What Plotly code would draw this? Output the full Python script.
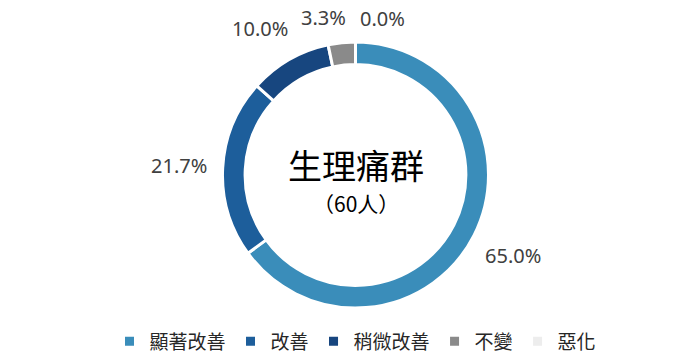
import math
import plotly.graph_objects as go

categories = ["顯著改善", "改善", "稍微改善", "不變", "惡化"]
values = [65.0, 21.7, 10.0, 3.3, 0.0]
colors = ["#3A8DBA", "#1D5E9B", "#17467F", "#8A8A8A", "#EDEDED"]
center_title = "生理痛群"
center_sub = "（60人）"

W, H = 691, 356
MT, MB = 42, 48
PH = H - MT - MB
CX, CY = 355.5, MT + PH / 2
R = PH / 2
LABEL_SIZE = 20

fig = go.Figure(go.Pie(
    labels=categories, values=values, sort=False,
    direction="clockwise", rotation=0, hole=0.83,
    marker=dict(colors=colors, line=dict(color="white", width=3)),
    textinfo="none", hoverinfo="label+percent",
    domain=dict(x=[(CX - R) / W, (CX + R) / W], y=[0, 1]),
))


def text_width(t, size):
    wmap = {".": 0.27, "%": 0.86}
    return sum(wmap.get(ch, 0.572) for ch in t) * size


# outside labels: place box just outside the ring at each slice's mid-angle
labels = []
total = sum(values)
cum = 0.0
LR = 148
TH = 16
for v in values:
    mid = (cum + v / 2) / total * 2 * math.pi
    cum += v
    s, c = math.sin(mid), math.cos(mid)
    txt = f"{v:.1f}%"
    w = text_width(txt, LABEL_SIZE)
    d = LR + abs(s) * w / 2 + abs(c) * TH / 2
    labels.append(dict(txt=txt, w=w, x=CX + d * s, y=CY - d * c))

# simple de-overlap: push overlapping neighbours apart horizontally
GAP = 13
for _ in range(5):
    for i in range(len(labels)):
        for j in range(i + 1, len(labels)):
            a, b = labels[i], labels[j]
            if abs(a["y"] - b["y"]) < TH + 4:
                need = (a["w"] + b["w"]) / 2 + GAP
                dx = b["x"] - a["x"]
                if abs(dx) < need:
                    sign = 1 if dx >= 0 else -1
                    push = (need - abs(dx)) / 2
                    a["x"] -= sign * push
                    b["x"] += sign * push

annotations = []
for lb in labels:
    annotations.append(dict(
        x=lb["x"] / W, y=(H - MB - lb["y"]) / PH, xref="paper", yref="paper",
        text=lb["txt"], showarrow=False, xanchor="center", yanchor="middle",
        font=dict(family="Noto Sans, Noto Sans CJK TC", size=LABEL_SIZE, color="#404040"),
    ))

annotations.append(dict(
    x=CX / W, y=(H - MB - 164) / PH, xref="paper", yref="paper",
    text=center_title, showarrow=False, xanchor="center", yanchor="middle",
    font=dict(family="Noto Sans CJK TC", size=34, color="#000000"),
))
annotations.append(dict(
    x=CX / W, y=(H - MB - 203) / PH, xref="paper", yref="paper",
    text=center_sub, showarrow=False, xanchor="center", yanchor="middle",
    font=dict(family="Noto Sans CJK TC", size=21, color="#000000"),
))

fig.update_layout(
    width=W, height=H,
    margin=dict(l=0, r=0, t=MT, b=MB, autoexpand=False),
    paper_bgcolor="white", plot_bgcolor="white",
    showlegend=True,
    legend=dict(
        orientation="h", x=CX / W, xanchor="center",
        y=(H - MB - 341.5) / PH, yanchor="middle",
        font=dict(family="Noto Sans CJK TC", size=19, color="#262626"),
        traceorder="normal",
    ),
    annotations=annotations,
)

fig.write_html(
    "out.html",
    config={"displayModeBar": False},
    post_script="document.body.style.margin='0';document.body.style.overflow='hidden';",
)
